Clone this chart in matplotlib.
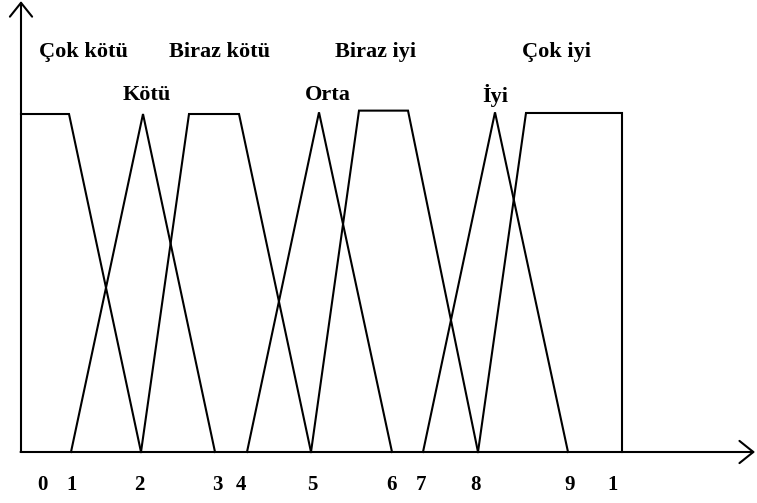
"""
Fuzzy membership functions (Çok kötü ... Çok iyi)
"""

import matplotlib
matplotlib.use("Agg")
import matplotlib.pyplot as plt

# breakpoints of each membership function (x in score units, mu = membership)
set_names = ['Çok kötü', 'Kötü', 'Biraz kötü', 'Orta', 'Biraz iyi', 'İyi', 'Çok iyi']
set_x = [
    [0.0, 4.8, 12.0],
    [5.0, 12.2, 19.4],
    [12.0, 16.8, 21.8, 29.0],
    [22.6, 29.8, 37.1],
    [29.0, 33.8, 38.7, 45.7],
    [40.2, 47.4, 54.7],
    [45.7, 50.5, 60.1, 60.1],
]
set_mu = [
    [1.0, 1.0, 0.0],
    [0.0, 1.0, 0.0],
    [0.0, 1.0, 1.0, 0.0],
    [0.0, 1.005, 0.0],
    [0.0, 1.01, 1.01, 0.0],
    [0.0, 1.005, 0.0],
    [0.0, 1.003, 1.003, 0.0],
]

# set names placed above the curves
label_x = [6.2, 12.6, 19.8, 30.7, 35.5, 47.4, 53.5]
label_y = [1.183, 1.056, 1.183, 1.056, 1.183, 1.056, 1.183]

# tick labels under the x axis
tick_pos = [2.1, 5.1, 11.8, 19.6, 22.0, 29.1, 37.0, 40.0, 45.4, 54.9, 59.2]
tick_text = ['0', '1', '2', '3', '4', '5', '6', '7', '8', '9', '1']

plt.rcParams['font.family'] = ['Liberation Serif', 'DejaVu Serif']

fig = plt.figure(figsize=(7.57, 5.03), dpi=100)
ax = fig.add_axes([0, 0, 1, 1])
ax.set_xlim(-2.1, 73.6)
ax.set_ylim(-0.1509, 1.3373)
ax.axis('off')

for xs, mus in zip(set_x, set_mu):
    ax.plot(xs, mus, color='black', lw=1.5, solid_joinstyle='miter')

# axes with open arrow heads
arrow = dict(arrowstyle='->, head_length=0.5, head_width=0.4', color='black',
             lw=1.5, mutation_scale=20, shrinkA=0, shrinkB=0)
ax.annotate('', xy=(0, 1.334), xytext=(0, 0), arrowprops=arrow)
ax.annotate('', xy=(73.4, 0), xytext=(-0.05, 0), arrowprops=arrow)

for name, x, y in zip(set_names, label_x, label_y):
    ax.text(x, y, name, ha='center', va='center', fontsize=16, fontweight='bold')

for x, t in zip(tick_pos, tick_text):
    ax.text(x, -0.0976, t, ha='center', va='center', fontsize=15, fontweight='bold')

fig.savefig('out.png', dpi=100)
